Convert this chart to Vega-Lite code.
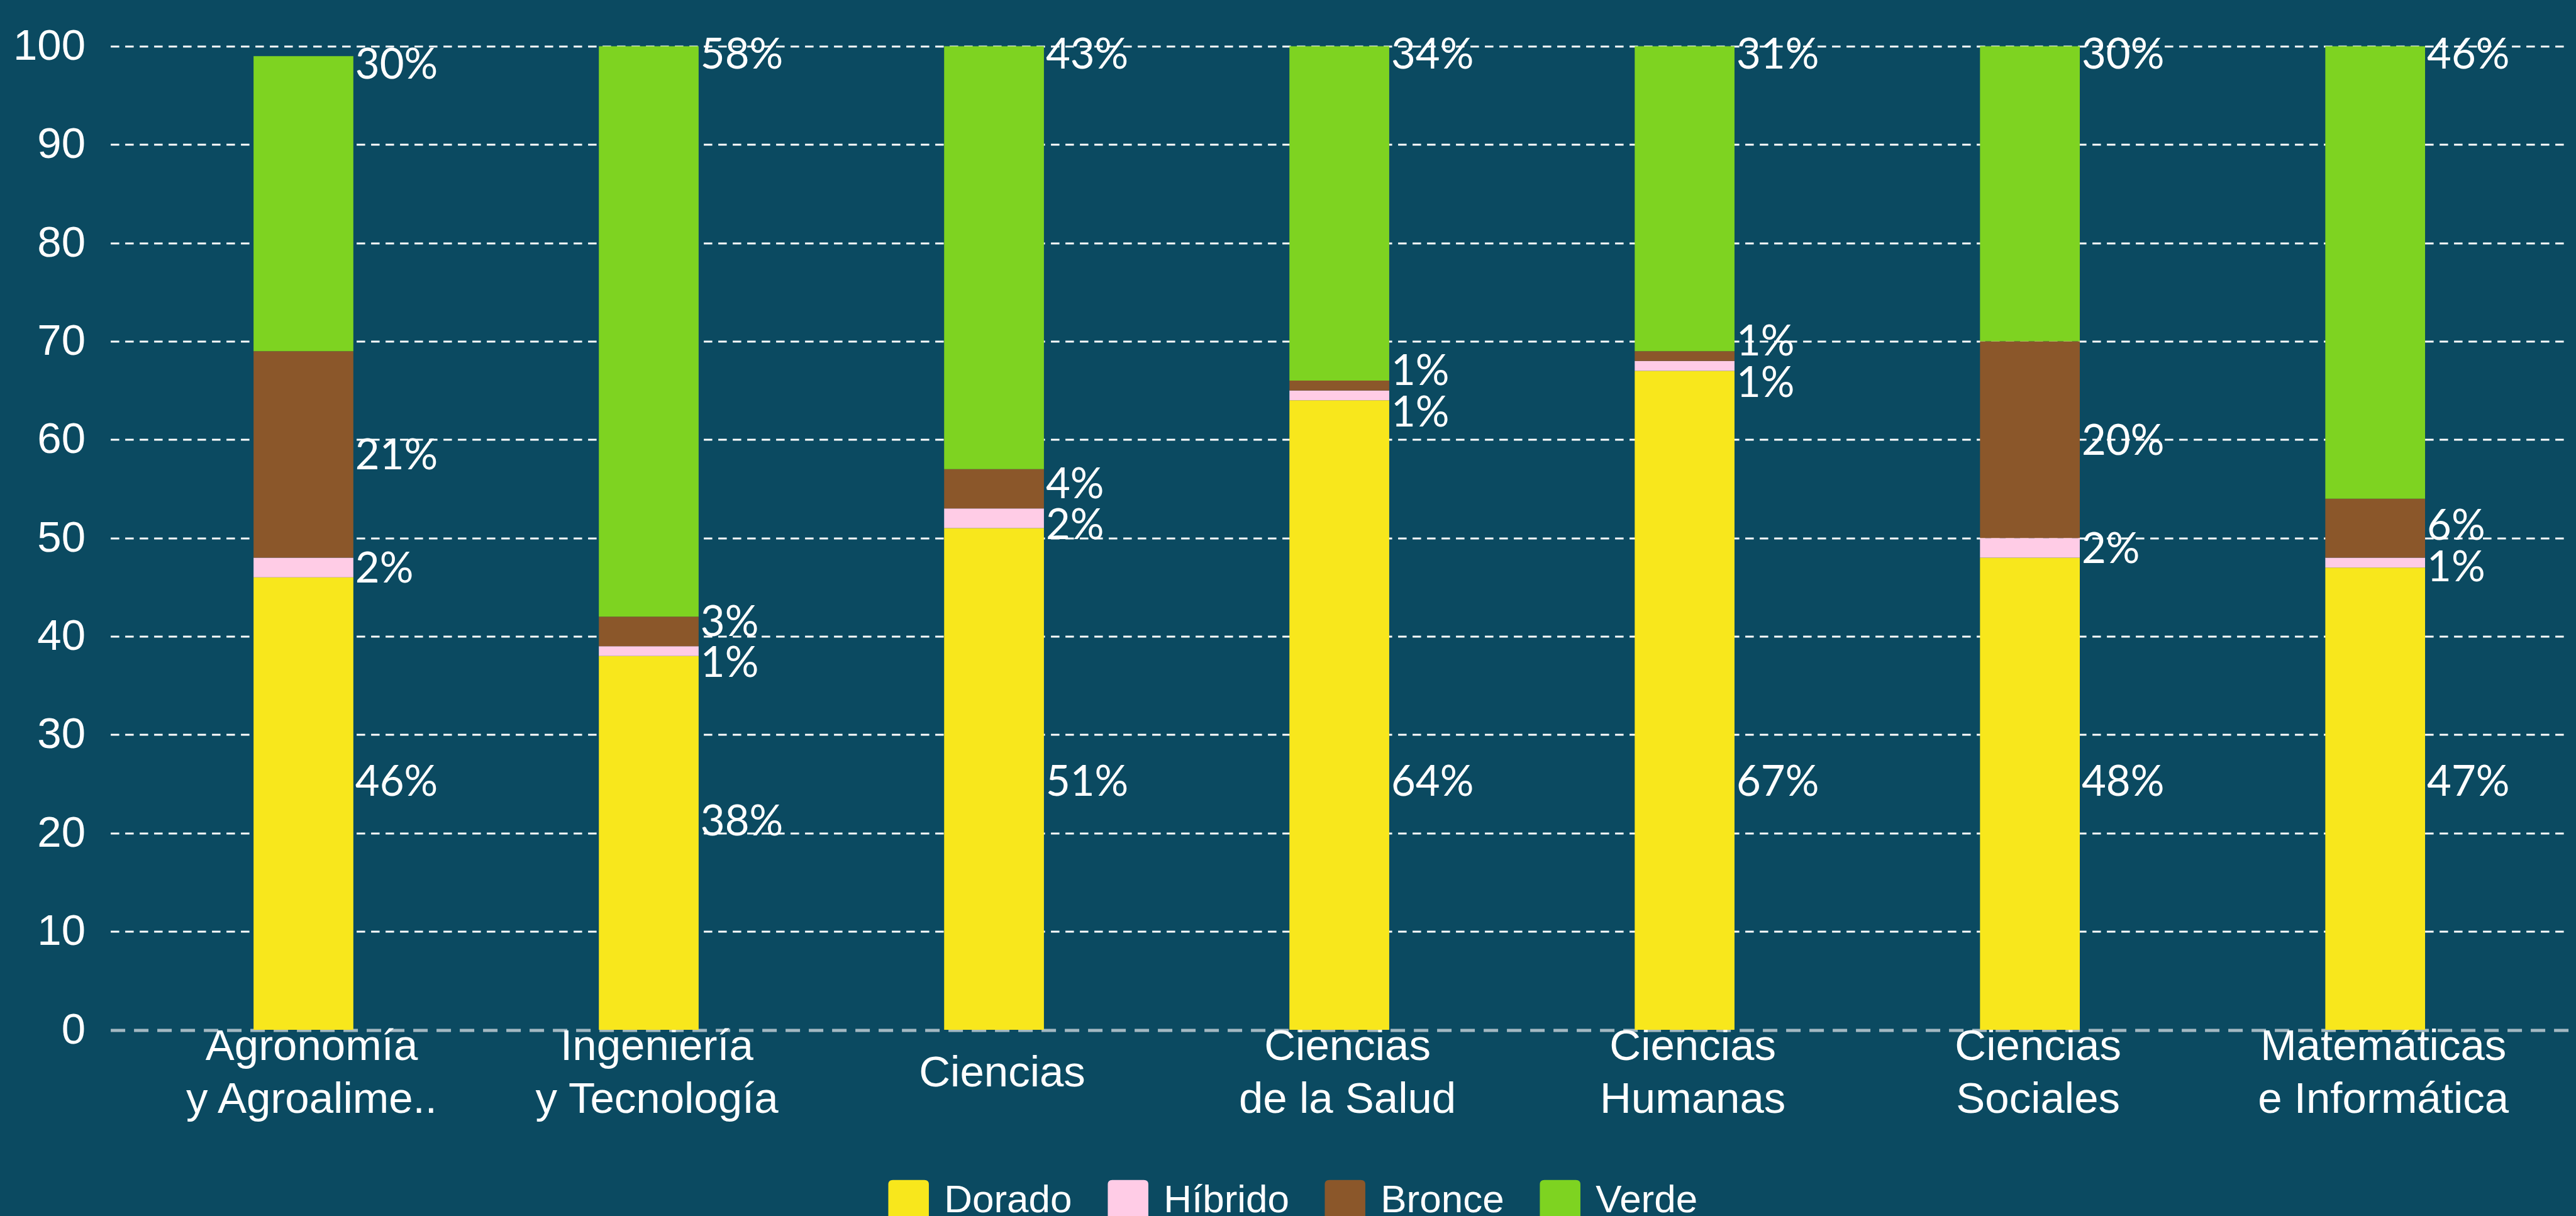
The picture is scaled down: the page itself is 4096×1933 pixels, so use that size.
{
  "$schema": "https://vega.github.io/schema/vega-lite/v6.json",
  "width": 3908,
  "height": 1563.5,
  "autosize": {"type": "none"},
  "padding": {"left": 175.6, "top": 73.5, "right": 12.4, "bottom": 296},
  "background": "#0b4a61",
  "config": {"view": {"stroke": null}},
  "data": {
    "values": [
      {"area": "Agronomía y Agroalime..", "cat": "Dorado", "value": 46},
      {"area": "Agronomía y Agroalime..", "cat": "Híbrido", "value": 2},
      {"area": "Agronomía y Agroalime..", "cat": "Bronce", "value": 21},
      {"area": "Agronomía y Agroalime..", "cat": "Verde", "value": 30},
      {"area": "Ingeniería y Tecnología", "cat": "Dorado", "value": 38},
      {"area": "Ingeniería y Tecnología", "cat": "Híbrido", "value": 1},
      {"area": "Ingeniería y Tecnología", "cat": "Bronce", "value": 3},
      {"area": "Ingeniería y Tecnología", "cat": "Verde", "value": 58},
      {"area": "Ciencias", "cat": "Dorado", "value": 51},
      {"area": "Ciencias", "cat": "Híbrido", "value": 2},
      {"area": "Ciencias", "cat": "Bronce", "value": 4},
      {"area": "Ciencias", "cat": "Verde", "value": 43},
      {"area": "Ciencias de la Salud", "cat": "Dorado", "value": 64},
      {"area": "Ciencias de la Salud", "cat": "Híbrido", "value": 1},
      {"area": "Ciencias de la Salud", "cat": "Bronce", "value": 1},
      {"area": "Ciencias de la Salud", "cat": "Verde", "value": 34},
      {"area": "Ciencias Humanas", "cat": "Dorado", "value": 67},
      {"area": "Ciencias Humanas", "cat": "Híbrido", "value": 1},
      {"area": "Ciencias Humanas", "cat": "Bronce", "value": 1},
      {"area": "Ciencias Humanas", "cat": "Verde", "value": 31},
      {"area": "Ciencias Sociales", "cat": "Dorado", "value": 48},
      {"area": "Ciencias Sociales", "cat": "Híbrido", "value": 2},
      {"area": "Ciencias Sociales", "cat": "Bronce", "value": 20},
      {"area": "Ciencias Sociales", "cat": "Verde", "value": 30},
      {"area": "Matemáticas e Informática", "cat": "Dorado", "value": 47},
      {"area": "Matemáticas e Informática", "cat": "Híbrido", "value": 1},
      {"area": "Matemáticas e Informática", "cat": "Bronce", "value": 6},
      {"area": "Matemáticas e Informática", "cat": "Verde", "value": 46}
    ]
  },
  "transform": [
    {"calculate": "indexof(['Dorado', 'Híbrido', 'Bronce', 'Verde'], datum.cat)", "as": "ord"},
    {"stack": "value", "groupby": ["area"], "sort": [{"field": "ord", "order": "ascending"}], "as": ["v0", "v1"]},
    {"calculate": "(datum.cat === 'Híbrido' || datum.cat === 'Bronce') ? datum.value : 0", "as": "hb"},
    {"joinaggregate": [{"op": "sum", "field": "hb", "as": "pair"}], "groupby": ["area"]},
    {"calculate": "(datum.v0 + datum.v1) / 2", "as": "mid"},
    {"calculate": "max(0, (4.2 - datum.pair / 2) / 2)", "as": "push"},
    {"calculate": "datum.cat === 'Dorado' ? min(datum.mid + 2.3, 25.3) : datum.cat === 'Híbrido' ? datum.mid - datum.push : datum.cat === 'Bronce' ? datum.mid + datum.push : datum.v1 - 0.75", "as": "labelY"},
    {"calculate": "datum.value + '%'", "as": "label"}
  ],
  "encoding": {
    "x": {
      "field": "area",
      "type": "nominal",
      "sort": null,
      "scale": {"paddingInner": 0.711, "paddingOuter": 0.4145},
      "axis": {
        "title": null,
        "domain": false,
        "ticks": false,
        "tickSize": 0,
        "grid": false,
        "labelAngle": 0,
        "labelFont": "Liberation Sans",
        "labelFontSize": 69,
        "labelColor": "#ffffff",
        "labelPadding": {"condition": {"test": "indexof(datum.label, ' ') > 0", "value": 26.9}, "value": 68.5},
        "labelBaseline": "middle",
        "labelLineHeight": 83.3,
        "labelLimit": 1000,
        "labelOverlap": false,
        "labelOffset": 13,
        "labelExpr": "indexof(datum.label, ' ') > 0 ? [slice(datum.label, 0, indexof(datum.label, ' ')), slice(datum.label, indexof(datum.label, ' ') + 1)] : datum.label"
      }
    }
  },
  "layer": [
    {
      "mark": {"type": "bar"},
      "encoding": {
        "y": {
          "field": "v0",
          "type": "quantitative",
          "scale": {"domain": [0, 100], "nice": false},
          "axis": {
            "title": null,
            "values": [0, 10, 20, 30, 40, 50, 60, 70, 80, 90, 100],
            "domain": false,
            "ticks": false,
            "tickSize": 0,
            "labelFont": "Liberation Sans",
            "labelFontSize": 69,
            "labelColor": "#ffffff",
            "labelPadding": 40,
            "labelBaseline": "middle",
            "grid": true,
            "gridColor": {"condition": {"test": "datum.value === 0", "value": "#a3b8c2"}, "value": "#ffffff"},
            "gridWidth": {"condition": {"test": "datum.value === 0", "value": 5}, "value": 3},
            "gridDash": {"condition": {"test": "datum.value === 0", "value": [23, 14]}, "value": [13.5, 9.5]}
          }
        },
        "y2": {"field": "v1"},
        "color": {
          "field": "cat",
          "type": "nominal",
          "scale": {
            "domain": ["Dorado", "Híbrido", "Bronce", "Verde"],
            "range": ["#f8e71c", "#ffcce6", "#8b572a", "#7ed321"]
          },
          "legend": {
            "title": null,
            "orient": "none",
            "legendX": 1236.6,
            "legendY": 1801.8,
            "direction": "horizontal",
            "padding": 0,
            "symbolType": "M-1,-0.78 Q-1,-1 -0.78,-1 L0.78,-1 Q1,-1 1,-0.78 L1,0.78 Q1,1 0.78,1 L-0.78,1 Q-1,1 -1,0.78 Z",
            "symbolSize": 4160,
            "symbolStrokeWidth": 0,
            "symbolOpacity": 1,
            "labelFont": "Liberation Sans",
            "labelFontSize": 62,
            "labelColor": "#ffffff",
            "labelOffset": 24,
            "labelLimit": 1000,
            "columnPadding": 56
          }
        }
      }
    },
    {
      "mark": {"type": "text", "align": "left", "baseline": "middle", "dx": 3, "dy": 4, "font": "Lato", "fontSize": 67, "color": "#ffffff"},
      "encoding": {
        "x": {"field": "area", "type": "nominal", "sort": null, "bandPosition": 1},
        "y": {"field": "labelY", "type": "quantitative"},
        "text": {"field": "label"}
      }
    }
  ]
}
